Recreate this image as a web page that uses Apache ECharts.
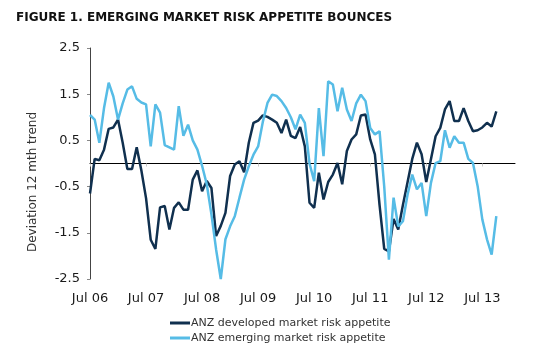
<!DOCTYPE html>
<html><head><meta charset="utf-8">
<script src="https://cdn.jsdelivr.net/npm/echarts@6/dist/echarts.min.js"></script>
<style>html,body{margin:0;padding:0;background:#fff}#c{width:538px;height:354px}</style>
</head><body><div id="c"></div>
<script>
const titleText = 'FIGURE 1. EMERGING MARKET RISK APPETITE BOUNCES';
const yAxisName = 'Deviation 12 mth trend';
const monthNames = ['Jan','Feb','Mar','Apr','May','Jun','Jul','Aug','Sep','Oct','Nov','Dec'];
const startYear = 2006, startMonth = 6, axisMonths = 92;
const tickLabels = ['Jul 06','Jul 07','Jul 08','Jul 09','Jul 10','Jul 11','Jul 12','Jul 13'];
const yTicks = [-2.5, -1.5, -0.5, 0.5, 1.5, 2.5];

const developed = [
 -0.65, 0.1, 0.07, 0.3, 0.75, 0.78, 0.95, 0.45, -0.12, -0.12, 0.35, -0.15,
 -0.75, -1.65, -1.85, -0.95, -0.92, -1.43, -0.96, -0.84, -1.0, -1.0, -0.35, -0.15,
 -0.6, -0.38, -0.53, -1.57, -1.35, -1.07, -0.27, -0.02, 0.05, -0.19, 0.45, 0.88,
 0.93, 1.04, 1.01, 0.95, 0.88, 0.66, 0.95, 0.6, 0.55, 0.79, 0.37, -0.85,
 -0.96, -0.2, -0.78, -0.4, -0.24, 0.01, -0.45, 0.27, 0.52, 0.63, 1.04, 1.06,
 0.52, 0.2, -0.9, -1.85, -1.9, -1.2, -1.43, -0.9, -0.4, 0.1, 0.45, 0.2,
 -0.4, 0.09, 0.59, 0.77, 1.17, 1.35, 0.92, 0.92, 1.2, 0.92, 0.7, 0.72,
 0.78, 0.88, 0.8, 1.13
];
const emerging = [
 1.05, 0.95, 0.45, 1.2, 1.75, 1.45, 0.95, 1.3, 1.6, 1.67, 1.4, 1.32,
 1.28, 0.37, 1.28, 1.1, 0.4, 0.35, 0.3, 1.24, 0.6, 0.84, 0.5, 0.3,
 -0.05, -0.45, -1.1, -1.86, -2.5, -1.64, -1.36, -1.14, -0.74, -0.35, -0.06, 0.19,
 0.37, 0.9, 1.31, 1.49, 1.46, 1.35, 1.2, 1.0, 0.74, 1.06, 0.88, 0.0,
 -0.38, 1.2, 0.16, 1.78, 1.71, 1.13, 1.64, 1.17, 0.92, 1.3, 1.49, 1.35,
 0.77, 0.63, 0.7, -0.5, -2.08, -0.74, -1.36, -1.25, -0.67, -0.24, -0.56, -0.42,
 -1.14, -0.42, 0.01, 0.05, 0.72, 0.34, 0.59, 0.45, 0.45, 0.1, 0.01, -0.49,
 -1.21, -1.64, -1.97, -1.14
];

const categories = [];
for (let k = 0; k < axisMonths; k++) {
  const m = (startMonth + k) % 12;
  const y = startYear + Math.floor((startMonth + k) / 12);
  categories.push(monthNames[m] + ' ' + String(y % 100).padStart(2, '0'));
}

const FONT = 'DejaVu Sans';
const chart = echarts.init(document.getElementById('c'), null, {renderer: 'canvas'});
chart.setOption({
  animation: false,
  backgroundColor: '#fff',
  title: {
    text: titleText, left: 11, top: 7,
    textStyle: {fontFamily: FONT, fontSize: 12, fontWeight: 'bold', color: '#111'}
  },
  graphic: [{
    type: 'text', x: 33, y: 182, rotation: Math.PI / 2,
    style: {text: yAxisName, fontFamily: FONT, fontSize: 12, fill: '#333',
            align: 'center', verticalAlign: 'middle'}
  }],
  legend: {
    orient: 'vertical', left: 165, top: 311, icon: 'rect',
    itemWidth: 20, itemHeight: 3, itemGap: 1,
    textStyle: {fontFamily: FONT, fontSize: 11, color: '#333', lineHeight: 14, padding: [0,0,0,-4]},
    data: ['ANZ developed market risk appetite', 'ANZ emerging market risk appetite']
  },
  grid: {left: 90, right: 23, top: 48, bottom: 75, containLabel: false},
  xAxis: [{
    type: 'category', data: categories, boundaryGap: false,
    axisLine: {show: false, onZero: false},
    axisTick: {show: false},
    axisLabel: {
      interval: (i, v) => tickLabels.indexOf(v) >= 0,
      hideOverlap: false, margin: 13,
      fontFamily: FONT, fontSize: 13, color: '#1a1a1a'
    },
    splitLine: {show: false}
  }, {
    type: 'category', data: categories, boundaryGap: false, position: 'bottom',
    axisLine: {show: true, onZero: true, lineStyle: {color: '#000', width: 1}},
    axisTick: {show: true, interval: 11, length: 3, lineStyle: {color: '#c8c8c8'}},
    axisLabel: {show: false},
    splitLine: {show: false}
  }],
  yAxis: {
    type: 'value', min: yTicks[0], max: yTicks[yTicks.length - 1], interval: 1,
    axisLine: {show: true, lineStyle: {color: '#444', width: 1}},
    axisTick: {show: true, length: 3, lineStyle: {color: '#888'}},
    axisLabel: {fontFamily: FONT, fontSize: 13, color: '#1a1a1a', margin: 10,
                formatter: v => v.toFixed(1)},
    splitLine: {show: false}
  },
  series: [{
    name: 'ANZ developed market risk appetite', type: 'line', data: developed,
    xAxisIndex: 0, showSymbol: false, symbol: 'none',
    lineStyle: {color: '#10304f', width: 2.5}, itemStyle: {color: '#10304f'}
  }, {
    name: 'ANZ emerging market risk appetite', type: 'line', data: emerging,
    xAxisIndex: 0, showSymbol: false, symbol: 'none',
    lineStyle: {color: '#56bce6', width: 2.5}, itemStyle: {color: '#56bce6'}
  }]
});
</script></body></html>
